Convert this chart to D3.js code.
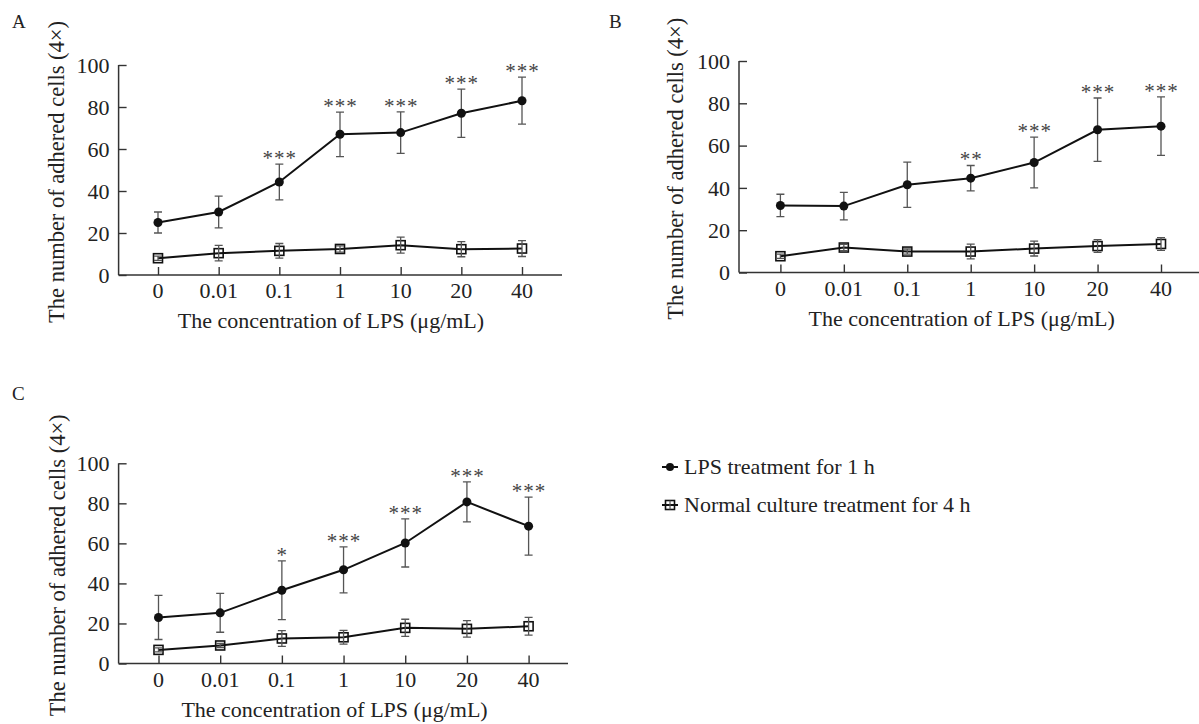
<!DOCTYPE html>
<html>
<head>
<meta charset="utf-8">
<script src="https://cdn.jsdelivr.net/npm/d3@7"></script>
<style>
  body { margin: 0; background: #fff; }
  text { font-family: "Liberation Serif", "Times New Roman", serif; fill: #222; }
</style>
</head>
<body>
<script>
// doses on the x axis (categorical)
var doses = ["0", "0.01", "0.1", "1", "10", "20", "40"];
var yTicks = [0, 20, 40, 60, 80, 100];
var seriesNames = ["LPS treatment for 1 h", "Normal culture treatment for 4 h"];

// panel A
var lpsA = [25, 30, 44.3, 67, 67.8, 77, 83];
var lpsAErr = [5, 7.6, 8.5, 10.6, 9.9, 11.5, 11.2];
var normA = [8, 10.4, 11.5, 12.4, 14.2, 12.3, 12.6];
var normAErr = [1, 3.7, 3.5, 1.5, 3.8, 3.6, 3.8];
var sigA = ["", "", "***", "***", "***", "***", "***"];

// panel B
var lpsB = [31.7, 31.4, 41.5, 44.6, 52, 67.5, 69.2];
var lpsBErr = [5.3, 6.5, 10.7, 6, 12, 15, 13.8];
var normB = [7.7, 11.8, 9.9, 9.9, 11.3, 12.5, 13.5];
var normBErr = [1, 1.5, 1.2, 3.5, 3.5, 3, 3];
var sigB = ["", "", "", "**", "***", "***", "***"];

// panel C
var lpsC = [23, 25.3, 36.6, 46.8, 60.2, 80.7, 68.6];
var lpsCErr = [11, 9.7, 14.7, 11.5, 12, 10, 14.5];
var normC = [6.8, 9, 12.5, 13.1, 17.8, 17.3, 18.6];
var normCErr = [1, 1, 3.9, 3.4, 4.3, 4.1, 4.4];
var sigC = ["", "", "*", "***", "***", "***", "***"];

var svg = d3.select("body").append("svg")
  .attr("width", 1199)
  .attr("height", 724);

var panels = [
  {letter: "A", lx: 12, ly: 28, axX: 118.6, axEnd: 562, x0: 158, x1: 522, yTop: 65, yBot: 275,
   titleX: 57, lps: lpsA, lpsErr: lpsAErr, norm: normA, normErr: normAErr, sig: sigA},
  {letter: "B", lx: 609, ly: 28, axX: 739, axEnd: 1201, x0: 780.4, x1: 1161, yTop: 61, yBot: 272.5,
   titleX: 676, lps: lpsB, lpsErr: lpsBErr, norm: normB, normErr: normBErr, sig: sigB},
  {letter: "C", lx: 12, ly: 400, axX: 118.6, axEnd: 568, x0: 158.5, x1: 528.6, yTop: 463.3, yBot: 663.5,
   titleX: 58, lps: lpsC, lpsErr: lpsCErr, norm: normC, normErr: normCErr, sig: sigC}
];

panels.forEach(function(p) {
  var x = d3.scalePoint().domain(doses).range([p.x0, p.x1]);
  var y = d3.scaleLinear().domain([0, 100]).range([p.yBot, p.yTop]);
  var g = svg.append("g");

  g.append("text").attr("x", p.lx).attr("y", p.ly)
    .style("font-size", "19px").text(p.letter);

  // axes: inward ticks
  var yAxis = g.append("g")
    .attr("transform", "translate(" + p.axX + ",0)")
    .call(d3.axisRight(y).tickValues(yTicks).tickSize(8).tickFormat(""));
  yAxis.select(".domain").attr("d", "M0," + p.yTop + "V" + p.yBot);
  yAxis.selectAll("line").attr("stroke", "#333").attr("stroke-width", 1.4);
  yAxis.select(".domain").attr("stroke", "#333").attr("stroke-width", 1.5);

  var xAxis = g.append("g")
    .attr("transform", "translate(0," + p.yBot + ")")
    .call(d3.axisTop(x).tickSize(8).tickFormat(""));
  xAxis.select(".domain").attr("d", "M" + p.axX + ",0H" + p.axEnd);
  xAxis.selectAll("line").attr("stroke", "#333").attr("stroke-width", 1.4);
  xAxis.select(".domain").attr("stroke", "#333").attr("stroke-width", 1.5);

  g.selectAll(".ylab").data(yTicks).enter().append("text")
    .attr("x", p.axX - 9).attr("y", d => y(d)).attr("dy", "0.35em")
    .attr("text-anchor", "end").style("font-size", "22px").text(d => d);

  g.selectAll(".xlab").data(doses).enter().append("text")
    .attr("x", d => x(d)).attr("y", p.yBot + 23)
    .attr("text-anchor", "middle").style("font-size", "22px").text(d => d);

  g.append("text")
    .attr("x", (p.x0 + p.x1) / 2 - 9).attr("y", p.yBot + 53)
    .attr("text-anchor", "middle").style("font-size", "22px")
    .text("The concentration of LPS (\u03bcg/mL)");

  g.append("text")
    .attr("transform", "translate(" + (p.titleX + 7) + "," + ((p.yTop + p.yBot) / 2 + 2) + ") rotate(-90)")
    .attr("text-anchor", "middle").style("font-size", "22.5px")
    .text("The number of adhered cells (4\u00d7)");

  var line = d3.line().x((d, i) => x(doses[i])).y(d => y(d));

  function errBars(vals, errs) {
    var eg = g.append("g").attr("stroke", "#555").attr("stroke-width", 1.3);
    vals.forEach(function(v, i) {
      var cx = x(doses[i]);
      var t = y(v + errs[i]), b = y(v - errs[i]);
      eg.append("path")
        .attr("d", "M" + cx + "," + t + "V" + b +
                   "M" + (cx - 4) + "," + t + "H" + (cx + 4) +
                   "M" + (cx - 4) + "," + b + "H" + (cx + 4));
    });
  }

  // normal culture series
  g.append("path").datum(p.norm).attr("d", line)
    .attr("fill", "none").attr("stroke", "#111").attr("stroke-width", 2);
  g.selectAll(".sq").data(p.norm).enter().append("rect")
    .attr("x", (d, i) => x(doses[i]) - 4.5).attr("y", d => y(d) - 4.5)
    .attr("width", 9).attr("height", 9)
    .attr("fill", "none").attr("stroke", "#111").attr("stroke-width", 1.6);
  errBars(p.norm, p.normErr);

  // LPS series
  errBars(p.lps, p.lpsErr);
  g.append("path").datum(p.lps).attr("d", line)
    .attr("fill", "none").attr("stroke", "#111").attr("stroke-width", 2);
  g.selectAll(".dot").data(p.lps).enter().append("circle")
    .attr("cx", (d, i) => x(doses[i])).attr("cy", d => y(d))
    .attr("r", 4.5).attr("fill", "#111");

  // significance stars
  g.selectAll(".sig").data(p.sig).enter().append("text")
    .attr("x", (d, i) => x(doses[i]) + 0.5)
    .attr("y", (d, i) => y(p.lps[i] + p.lpsErr[i]) + 1)
    .attr("text-anchor", "middle")
    .style("font-size", "21px").style("letter-spacing", "1px")
    .style("fill", "#444")
    .text(d => d);
});

// legend
var legend = svg.append("g").attr("transform", "translate(662,0)");
var legendY = [474, 512];
seriesNames.forEach(function(name, i) {
  var yy = legendY[i] - 7;
  legend.append("line").attr("x1", 0).attr("x2", 16).attr("y1", yy).attr("y2", yy)
    .attr("stroke", "#111").attr("stroke-width", 2);
  if (i === 0) {
    legend.append("circle").attr("cx", 8).attr("cy", yy).attr("r", 4).attr("fill", "#111");
  } else {
    legend.append("rect").attr("x", 3.5).attr("y", yy - 4.5).attr("width", 9).attr("height", 9)
      .attr("fill", "none").attr("stroke", "#111").attr("stroke-width", 1.6);
    legend.append("line").attr("x1", 8).attr("x2", 8).attr("y1", yy - 4.5).attr("y2", yy + 4.5)
      .attr("stroke", "#555").attr("stroke-width", 1.2);
  }
  legend.append("text").attr("x", 22).attr("y", legendY[i])
    .style("font-size", "22px").text(name);
});
</script>
</body>
</html>
